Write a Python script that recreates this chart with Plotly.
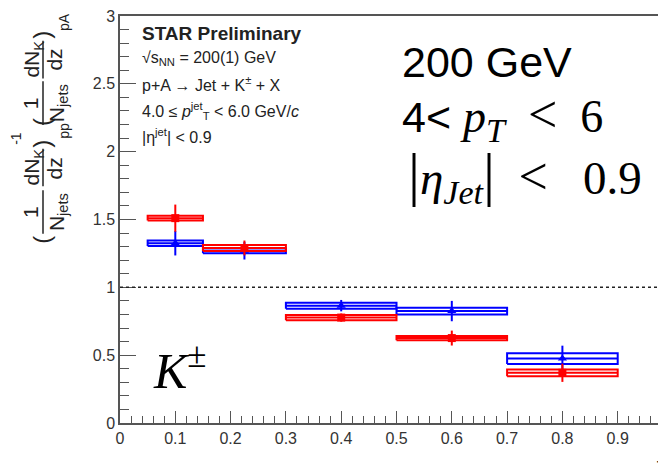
import plotly.graph_objects as go

# ---------------- data ----------------
z_center = [0.1, 0.225, 0.4, 0.6, 0.8]
bin_low = [0.05, 0.15, 0.3, 0.5, 0.7]
bin_high = [0.15, 0.3, 0.5, 0.7, 0.9]

red_val = [1.51, 1.29, 0.777, 0.626, 0.37]
red_stat = [0.10, 0.055, 0.03, 0.055, 0.067]
red_sys = [0.017, 0.022, 0.019, 0.016, 0.025]

blue_val = [1.325, 1.27, 0.865, 0.825, 0.475]
blue_stat = [0.09, 0.065, 0.042, 0.075, 0.095]
blue_sys = [0.02, 0.019, 0.022, 0.025, 0.04]

x_ticks = [0, 0.1, 0.2, 0.3, 0.4, 0.5, 0.6, 0.7, 0.8, 0.9]
x_ticktext = ["0", "0.1", "0.2", "0.3", "0.4", "0.5", "0.6", "0.7", "0.8", "0.9"]
y_ticks = [0, 0.5, 1, 1.5, 2, 2.5, 3]
y_ticktext = ["0", "0.5", "1", "1.5", "2", "2.5", "3"]

RED = "#ff0000"
BLUE = "#0000ff"
SANS = "Liberation Sans, Arial, sans-serif"
SERIF = "Liberation Serif, DejaVu Serif, serif"

fig = go.Figure()


def add_series(vals, stat, sys, color, symbol):
    bx, by = [], []
    for lo, hi, v, s in zip(bin_low, bin_high, vals, sys):
        bx += [lo, hi, hi, lo, lo, None]
        by += [v - s, v - s, v + s, v + s, v - s, None]
    fig.add_trace(go.Scatter(x=bx, y=by, mode="lines",
                             line=dict(color=color, width=2),
                             hoverinfo="skip", showlegend=False))
    fig.add_trace(go.Scatter(
        x=z_center, y=vals, mode="markers",
        marker=dict(symbol=symbol, size=8, color=color),
        error_x=dict(type="data", symmetric=False,
                     array=[h - c for h, c in zip(bin_high, z_center)],
                     arrayminus=[c - l for l, c in zip(bin_low, z_center)],
                     color=color, thickness=2, width=0),
        error_y=dict(type="data", array=stat, color=color, thickness=2, width=0),
        showlegend=False))


add_series(blue_val, blue_stat, blue_sys, BLUE, "triangle-up")
add_series(red_val, red_stat, red_sys, RED, "square")

# dotted reference line at unity
fig.add_shape(type="line", xref="paper", yref="y", x0=0, x1=1, y0=1, y1=1,
              line=dict(color="#222", width=1.5, dash="dot"))

# page body has an 8px margin -> figure is offset by 8px on screen
OFF = 8
L, R, T, B = 112, 0, 4, 42
W, H = 658, 457
PW, PH = W - L - R, H - T - B


def px(x):
    return (x - OFF - L) / PW


def py(y):
    return (H - B - (y - OFF)) / PH


def ann(text, x, y, size, family=SANS, xanchor="left", angle=0, color="#222"):
    fig.add_annotation(text=text, xref="paper", yref="paper", x=px(x), y=py(y),
                       xanchor=xanchor, yanchor="middle", showarrow=False,
                       textangle=angle, font=dict(size=size, family=family, color=color))


# STAR block
ann("<b>STAR Preliminary</b>", 140, 30, 19)
ann("√s<sub>NN</sub> = 200(1) GeV", 140, 55, 16)
ann("p+A → Jet + K<sup>±</sup> + X", 140, 81, 16)
ann("4.0 ≤ <i>p</i><sup>jet</sup><sub>T</sub> &lt; 6.0 GeV/<i>c</i>", 140, 108, 16)
ann("|η<sup>jet</sup>| &lt; 0.9", 140, 133, 16)

# big labels
ann("200 GeV", 400, 58, 43, color="#000")
ann("4&lt; <span style='font-family:Liberation Serif;font-size:46px'><i>p</i>"
    "<sub><span style='font-size:34px'><i>T</i></span></sub>"
    "&nbsp;&nbsp;<span style='font-size:52px'>&lt;</span>&nbsp;&nbsp;6</span>",
    400, 114, 43, color="#000")
ann("<span style='font-size:60px'>|</span><i>η</i>"
    "<sub><span style='font-size:34px'><i>Jet</i></span></sub>"
    "<span style='font-size:60px'>|</span>&nbsp;&nbsp;<span style='font-size:52px'>&lt;</span>"
    "&nbsp;&nbsp;&nbsp;0.9",
    406, 174, 47, family=SERIF, color="#000")
ann("<i>K</i><sup>±</sup>", 151, 367, 50, family=SERIF, color="#000")

# x-axis title
fig.add_annotation(text="z", xref="paper", yref="paper", x=px(661), y=py(452),
                   xanchor="center", yanchor="top", showarrow=False,
                   font=dict(size=20, family=SANS, color="#222"))

# rotated y-axis title built from pieces
YT = 21


def yt(text, x, y, size=YT):
    ann(text, x, y, size, xanchor="center", angle=-90)


def bar(x, y0, y1):
    fig.add_shape(type="line", xref="paper", yref="paper", x0=px(x), x1=px(x),
                  y0=py(y0), y1=py(y1), line=dict(color="#222", width=1.5))


yt("(", 42, 238, 24)
yt("1", 30, 210)
yt("N<sub>jets</sub>", 58, 210)
bar(43, 188, 232)
yt("dN<sub>K</sub>", 33, 165)
yt("dz", 55, 166)
bar(43, 146, 184)
yt(")", 42, 141, 24)
yt("-1", 16, 136, 14)
yt("pp", 64, 128, 14)
yt("(", 42, 119, 24)
yt("1", 30, 100)
yt("N<sub>jets</sub>", 58, 100)
bar(43, 78, 122)
yt("dN<sub>K</sub>", 33, 56)
yt("dz", 55, 56)
bar(43, 37, 75)
yt(")", 42, 31, 24)
yt("pA", 64, 18, 14)

AX = "#555"
fig.update_xaxes(range=[0, PW / 553.0], tickvals=x_ticks, ticktext=x_ticktext,
                 ticks="inside", ticklen=12, tickcolor=AX, tickwidth=1,
                 showline=True, linecolor=AX, linewidth=1.5, mirror=True,
                 showgrid=False, zeroline=False, ticklabeloverflow="allow",
                 minor=dict(dtick=0.02, ticks="inside", ticklen=7, tickcolor=AX),
                 tickfont=dict(size=16, family=SANS, color="#333"))
fig.update_yaxes(range=[0, 3], tickvals=y_ticks, ticktext=y_ticktext,
                 ticks="inside", ticklen=16, tickcolor=AX, tickwidth=1,
                 showline=True, linecolor=AX, linewidth=1.5, mirror=False,
                 showgrid=False, zeroline=False, ticklabeloverflow="allow",
                 minor=dict(dtick=0.1, ticks="inside", ticklen=9, tickcolor=AX),
                 tickfont=dict(size=16, family=SANS, color="#333"))

fig.update_layout(width=W, height=H, margin=dict(l=L, r=R, t=T, b=B),
                  plot_bgcolor="white", paper_bgcolor="white", showlegend=False)

fig.write_html("out.html")
